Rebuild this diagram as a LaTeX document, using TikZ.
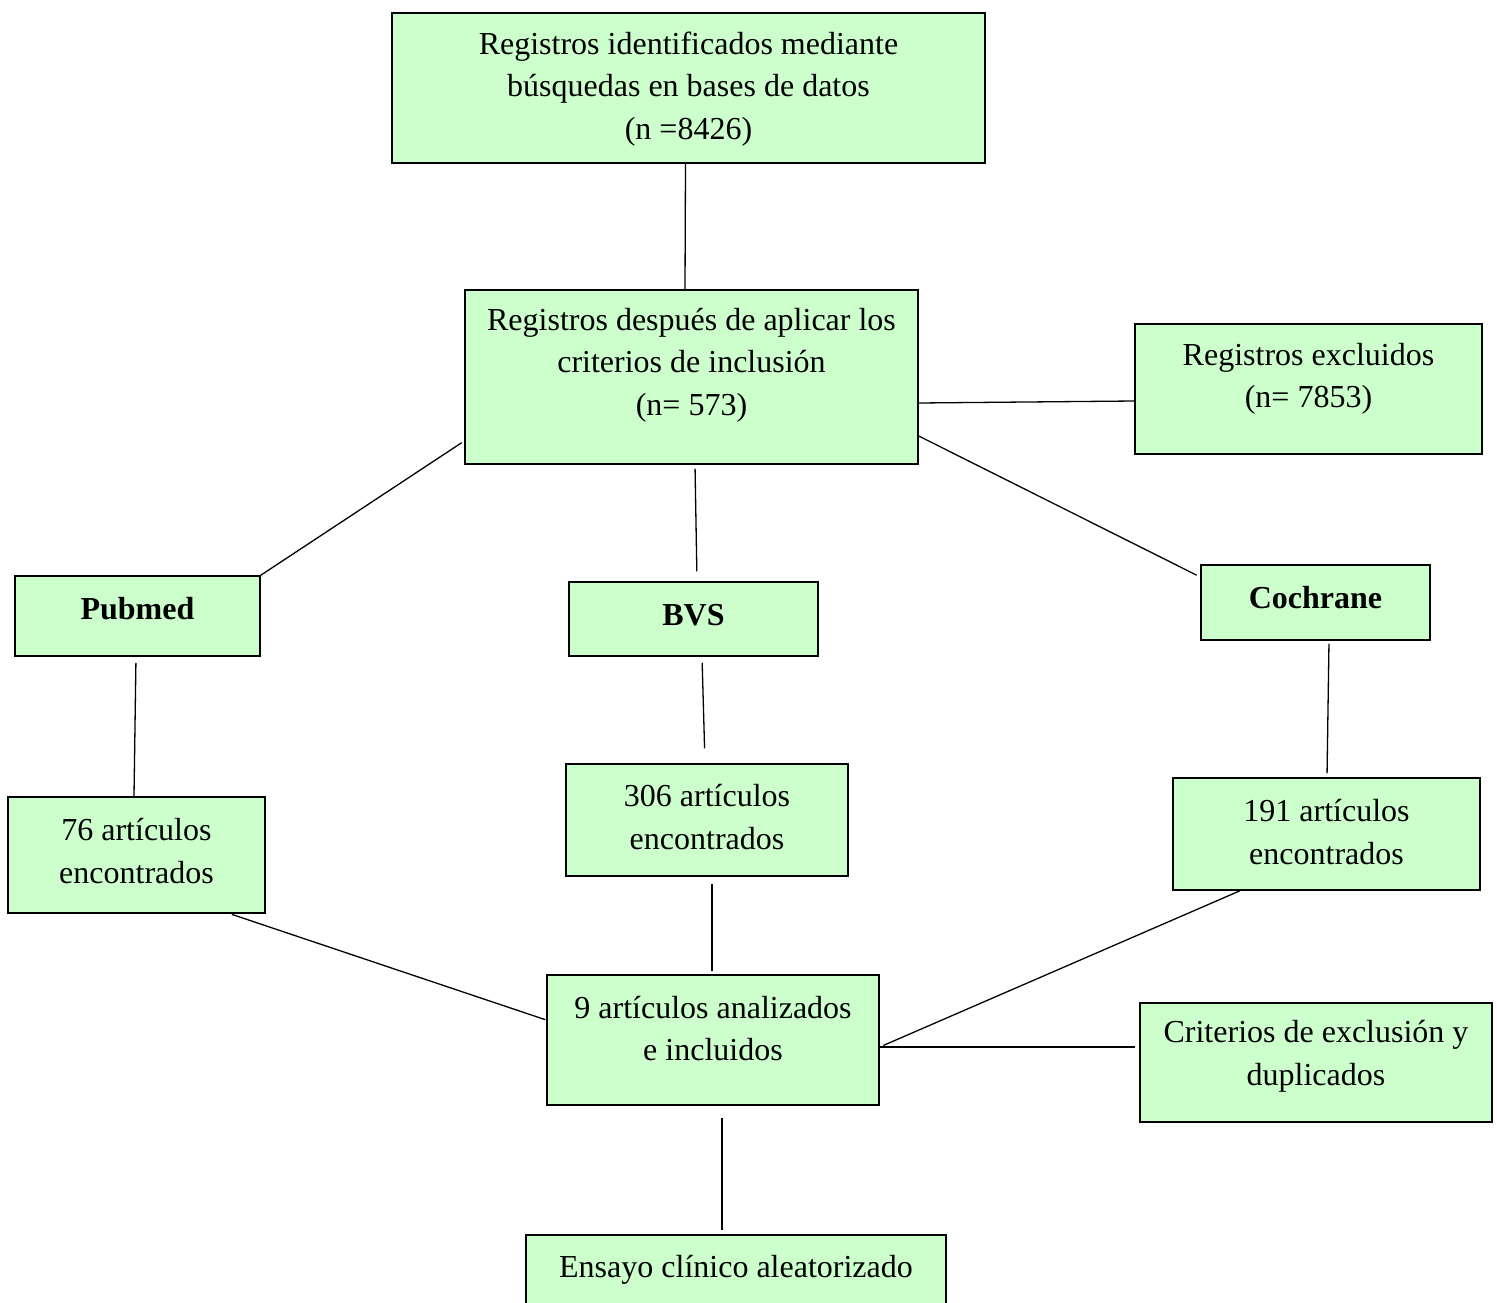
\documentclass[tikz,border=0pt]{standalone}
\usepackage{fontspec}
\setmainfont{Liberation Serif}
\definecolor{boxgreen}{HTML}{CCFFCC}
\tikzset{
  box/.style={draw=black, fill=boxgreen, line width=1.5pt, inner sep=0pt, rectangle},
  txt/.style 2 args={label={[align=center, yshift=#1, font=\fontsize{32}{42.5}\selectfont]center:{#2}}},
  link/.style={draw=black, line width=1.3pt},
}
\begin{document}
\begin{tikzpicture}[x=1pt,y=-1pt]
\clip (0,0) rectangle (1497,1303);
\fill[white] (0,0) rectangle (1497,1303);
\node[box, line width=2.2pt, minimum width=593, minimum height=150, txt={-1}{Registros identificados mediante\\búsquedas en bases de datos\\(n =8426)}] (top) at (688.5,88) {};
\node[box, minimum width=453, minimum height=174, txt={12}{Registros después de aplicar los\\criterios de inclusión\\(n= 573)}] (mid) at (691.5,377) {};
\node[box, minimum width=347, minimum height=130, txt={10}{Registros excluidos\\(n= 7853)}] (excl) at (1308.5,389) {};
\node[box, minimum width=245, minimum height=80, txt={7}{\textbf{Pubmed}}] (pub) at (137.5,616) {};
\node[box, minimum width=249, minimum height=74, txt={4}{\textbf{BVS}}] (bvs) at (693.5,619) {};
\node[box, minimum width=229, minimum height=75, txt={5}{\textbf{Cochrane}}] (coch) at (1315.5,602.5) {};
\node[box, minimum width=257, minimum height=116, txt={4}{76 artículos\\encontrados}] (n76) at (136.5,855) {};
\node[box, minimum width=282, minimum height=112, txt={3}{306 artículos\\encontrados}] (n306) at (707,820) {};
\node[box, minimum width=307, minimum height=112, txt={2}{191 artículos\\encontrados}] (n191) at (1326.5,834) {};
\node[box, minimum width=332, minimum height=130, txt={11.5}{9 artículos analizados\\e incluidos}] (nine) at (713,1040) {};
\node[box, minimum width=352, minimum height=119, txt={6}{Criterios de exclusión y\\duplicados}] (crit) at (1316,1062.5) {};
\node[box, minimum width=420, minimum height=80, txt={5}{Ensayo clínico aleatorizado}] (ens) at (736,1275) {};
% connectors
\draw[link] ([xshift=-3]top.south) -- ([xshift=-6.5]mid.north);
\draw[link] ([yshift=-26]mid.east) -- ([yshift=-12]excl.west);
\draw[link, shorten <=3] ([yshift=-64]mid.west) -- (pub.north east);
\draw[link, shorten <=4, shorten >=10] ([xshift=3.5]mid.south) -- ([xshift=3.5]bvs.north);
\draw[link, shorten >=4] ([yshift=-59]mid.east) -- ([yshift=25.5]coch.west);
\draw[link, shorten <=6] ([xshift=-1.5]pub.south) -- ([xshift=-2.5]n76.north);
\draw[link, shorten <=6, shorten >=15] ([xshift=8.5]bvs.south) -- ([xshift=-2]n306.north);
\draw[link, shorten <=3, shorten >=4] ([xshift=13.5]coch.south) -- ([xshift=0.5]n191.north);
\draw[link, shorten <=2, shorten >=1] ([xshift=93.5]n76.south) -- ([yshift=20]nine.west);
\draw[link, shorten <=7, shorten >=3] ([xshift=5]n306.south) -- ([xshift=-1]nine.north);
\draw[link, shorten >=4] ([xshift=-86.5]n191.south) -- ([yshift=-7]nine.east);
\draw[link, shorten >=4] ([yshift=-7]nine.east) -- ([yshift=15.5]crit.west);
\draw[link, shorten <=12, shorten >=4] ([xshift=9]nine.south) -- ([xshift=-14]ens.north);
\end{tikzpicture}
\end{document}
